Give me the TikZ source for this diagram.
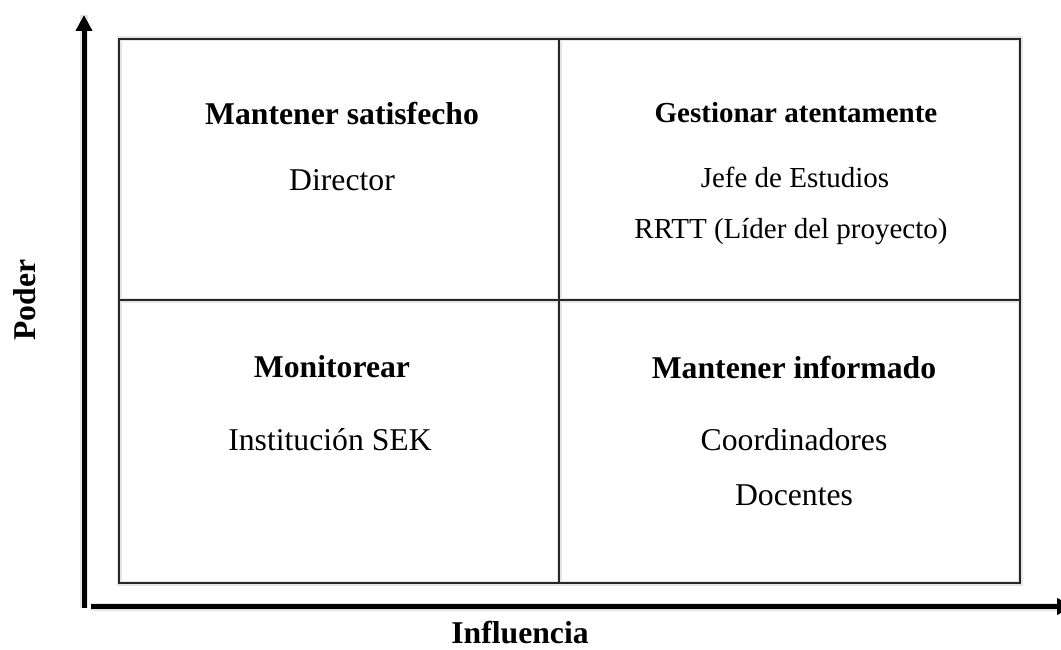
\documentclass[tikz,border=0pt]{standalone}
\usepackage{fontspec}
\setmainfont{Liberation Serif}
\usetikzlibrary{arrows.meta}

\tikzset{
  txt/.style={anchor=base, inner sep=0pt, font=\fontsize{31.7}{38}\selectfont},
  head/.style={txt, font=\fontsize{31.7}{38}\selectfont\bfseries},
  smalltxt/.style={txt, font=\fontsize{29}{35}\selectfont},
  smallhead/.style={txt, font=\fontsize{29}{35}\selectfont\bfseries},
  grid line/.style={draw=black!85, line width=1.8pt},
  axis line/.style={draw=black, line width=5pt, -{Triangle[width=16pt,length=16pt]}},
  soft/.style={draw=black!10, line width=5pt, shift={(2.5,3)}}
}

\begin{document}
\begin{tikzpicture}[x=1pt, y=-1pt]
        \clip (0,0) rectangle (1061,650);
        % corners of the matrix
        \coordinate (nw) at (119, 39);
        \coordinate (ne) at (1020, 39);
        \coordinate (sw) at (119, 583);
        \coordinate (se) at (1020, 583);
        \coordinate (n)  at (559, 39);
        \coordinate (s)  at (559, 583);
        \coordinate (w)  at (119, 300);
        \coordinate (e)  at (1020, 300);
        % ends of the axes
        \coordinate (ybottom) at (84, 608);
        \coordinate (ytop)    at (84, 15);
        \coordinate (xleft)   at (91, 606.5);
        \coordinate (xright)  at (1073, 606.5);
        % soft shadows
        \draw[soft] (nw) rectangle (se);
        \draw[soft] (n) -- (s);
        \draw[soft] (w) -- (e);
        \draw[soft, line width=8pt] (ybottom) -- (ytop);
        \draw[soft, line width=8pt] (xleft) -- (xright);
        % the matrix
        \draw[grid line] (nw) rectangle (se);
        \draw[grid line] (n) -- (s);
        \draw[grid line] (w) -- (e);
        % the axes
        \draw[axis line] (ybottom) -- (ytop);
        \draw[axis line] (xleft) -- (xright);
        % quadrant texts
        \node[head]      (satisfecho) at (342, 125) {Mantener satisfecho};
        \node[txt]       (director)   at (342, 190) {Director};
        \node[smallhead] (gestionar)  at (796, 123) {Gestionar atentamente};
        \node[smalltxt]  (jefe)       at (795, 188) {Jefe de Estudios};
        \node[smalltxt]  (rrtt)       at (791, 238) {RRTT (Líder del proyecto)};
        \node[head]      (monitorear) at (332, 377) {Monitorear};
        \node[txt]       (sek)        at (330, 450) {Institución SEK};
        \node[head]      (informado)  at (794, 378) {Mantener informado};
        \node[txt]       (coord)      at (794, 450) {Coordinadores};
        \node[txt]       (docentes)   at (794, 505) {Docentes};
        % axis labels
        \node[head] (influencia) at (520, 643) {Influencia};
        \node[head, rotate=90] (poder) at (35, 300) {Poder};
      \end{tikzpicture}
\end{document}
